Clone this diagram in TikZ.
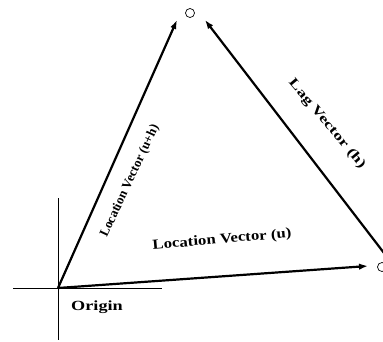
\documentclass[tikz,border=0pt]{standalone}
\usepackage{fontspec}
\setmainfont{Liberation Serif}
\usetikzlibrary{arrows.meta}
\begin{document}
\begin{tikzpicture}[x=1pt,y=-1pt,
  vec/.style={line width=2.2pt,-{Latex[length=9pt,width=6.5pt]}},
  axis/.style={line width=0.9pt},
  pt/.style={circle,draw,line width=0.7pt,minimum size=9pt,inner sep=0pt},
  lbl/.style={inner sep=0pt}]
\useasboundingbox (0,0) rectangle (383,341);
\fill[white] (0,0) rectangle (383,341);
% axes
\coordinate (O) at (58,288);
\coordinate (ax1) at (13,288);
\coordinate (ax2) at (162,288);
\coordinate (ay1) at (58,198);
\coordinate (ay2) at (58,340);
\draw[axis] (ax1) -- (ax2);
\draw[axis] (ay1) -- (ay2);
% points
\node[pt] (top) at (190,13) {};
\node[pt] (right) at (382,267) {};
\coordinate (tipA) at (177,20);
\coordinate (tipB) at (205,20);
\coordinate (tipC) at (368,266);
\coordinate (lagstart) at (384,253);
% vectors
\draw[vec] (O) -- (tipA);
\draw[vec] (O) -- (tipC);
\draw[vec] (lagstart) -- (tipB);
% labels
\node[lbl,rotate=65,font=\bfseries\fontsize{13}{13}\selectfont] (l1) at (130,181) {Location Vector (u+h)};
\node[lbl,rotate=5,font=\bfseries\fontsize{14}{14}\selectfont,xscale=1.2] (l2) at (222,240) {Location Vector (u)};
\node[lbl,rotate=-50,font=\bfseries\fontsize{13}{13}\selectfont,xscale=1.4] (l3) at (327,124) {Lag Vector (h)};
\node[lbl,font=\bfseries\fontsize{14}{14}\selectfont,xscale=1.3] (l4) at (97,307) {Origin};
\end{tikzpicture}
\end{document}
